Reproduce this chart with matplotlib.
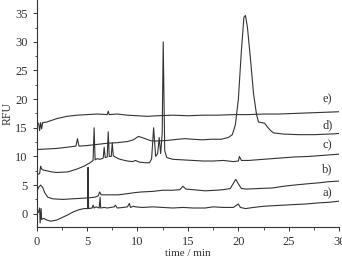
import matplotlib
matplotlib.use("Agg")
import matplotlib.pyplot as plt
from matplotlib.ticker import MultipleLocator

plt.rcParams.update({"font.family": "Liberation Serif", "font.size": 9})

# electropherograms a)-e): (time / min, RFU)
t_a = [0.0, 0.2, 0.3, 0.35, 0.45, 0.5, 0.7, 1.0, 1.4, 2.0, 2.6, 3.1, 3.6, 4.2, 4.7, 5.05, 5.1, 5.15,
       5.5, 5.6, 5.7, 5.9, 6.2, 6.3, 6.35, 6.7, 7.0, 7.7, 7.8, 8.0, 8.6, 9.0, 9.2, 9.3, 9.6, 9.8,
       10.5, 11.5, 12.5, 13.5, 14.5, 15.5, 16.7, 17.5, 18.5, 19.5, 20.0, 20.2, 20.7, 21.5, 22.5,
       23.4, 24.5, 25.5, 26.7, 28.0, 29.0, 30.0]
y_a = [0.0, 0.3, 1.0, -1.6, 0.9, -1.0, -0.8, -1.1, -1.3, -1.1, -0.6, -0.2, 0.3, 0.7, 0.9, 0.9, 8.1, 0.9,
       1.0, 1.5, 1.0, 1.2, 1.0, 2.9, 1.0, 1.1, 1.0, 1.2, 1.5, 1.0, 1.1, 1.2, 1.8, 1.1, 1.3, 1.2,
       1.1, 1.2, 1.1, 1.0, 1.1, 1.0, 1.0, 1.2, 1.1, 1.1, 1.7, 1.1, 0.9, 1.1, 1.3,
       1.4, 1.5, 1.6, 1.7, 1.9, 2.0, 2.2]

t_b = [0.0, 0.2, 0.4, 0.6, 0.8, 1.1, 1.6, 2.6, 3.5, 4.5, 5.3, 5.8, 6.1, 6.25, 6.4, 7.0, 8.1, 9.0,
       9.8, 10.4, 11.5, 12.5, 13.5, 14.2, 14.5, 14.8, 15.5, 16.7, 17.8, 18.5, 19.2, 19.5, 19.75,
       20.0, 20.3, 20.8, 22.0, 23.4, 24.5, 25.5, 26.7, 28.0, 29.0, 30.0]
y_b = [3.8, 4.6, 5.0, 4.6, 3.7, 2.9, 2.6, 2.5, 2.6, 2.7, 2.8, 2.9, 3.1, 3.8, 3.3, 3.3, 3.3, 3.5,
       3.7, 3.8, 3.9, 4.1, 4.1, 4.2, 4.8, 4.3, 4.2, 4.0, 4.1, 4.2, 4.4, 5.3, 6.0,
       5.2, 4.4, 4.3, 4.4, 4.5, 4.8, 5.0, 5.2, 5.4, 5.6, 5.7]

t_c = [0.0, 0.15, 0.3, 0.4, 0.5, 0.7, 1.0, 1.5, 2.0, 3.1, 4.0, 4.7, 5.3, 5.6, 5.7, 5.8, 6.0, 6.3,
       6.6, 6.7, 6.8, 7.0, 7.1, 7.2, 7.4, 7.5, 7.6, 8.1, 8.5, 9.0, 9.5, 9.8, 10.2, 10.8, 11.2,
       11.4, 11.6, 11.8, 12.0, 12.15, 12.3, 12.45, 12.55, 12.7, 12.9, 13.5, 14.5, 15.5, 16.5,
       17.5, 18.5, 19.5, 20.0, 20.1, 20.3, 21.0, 22.5, 24.0, 25.5, 27.0, 28.5, 30.0]
y_c = [7.0, 6.9, 7.0, 8.3, 7.8, 7.6, 7.5, 7.3, 7.2, 7.3, 7.8, 8.3, 8.9, 9.3, 15.0, 9.4, 9.6, 9.5,
       9.7, 11.6, 9.8, 9.9, 14.3, 10.0, 10.0, 12.4, 10.1, 9.6, 9.4, 9.2, 9.1, 9.3, 9.0, 8.9, 8.9,
       9.6, 15.0, 10.0, 10.5, 13.3, 10.5, 14.0, 30.0, 11.0, 9.8, 9.5, 9.4, 9.3, 9.2,
       9.2, 9.3, 9.1, 9.2, 10.0, 9.3, 9.3, 9.5, 9.7, 9.9, 10.0, 10.2, 10.4]

t_d = [0.0, 1.0, 2.0, 3.0, 3.9, 4.05, 4.2, 5.0, 6.0, 7.0, 8.0, 9.0, 9.6, 10.1, 10.6, 11.4, 12.0,
       13.0, 14.0, 14.7, 15.5, 16.4, 17.3, 18.3, 19.0, 19.4, 19.7, 20.0, 20.3, 20.55, 20.7, 20.9,
       21.2, 21.5, 21.8, 22.0, 22.3, 22.6, 22.9, 23.2, 23.5, 24.5, 26.0, 27.5, 29.0, 30.0]
y_d = [11.2, 11.3, 11.4, 11.6, 11.8, 13.1, 11.8, 11.9, 12.1, 12.3, 12.4, 12.6, 12.9, 13.5, 13.2, 12.7, 12.7,
       12.8, 13.0, 13.1, 13.0, 12.9, 13.0, 13.0, 13.3, 13.8, 15.5, 20.0, 28.5, 34.3, 34.6, 32.5,
       27.0, 21.0, 17.3, 16.0, 15.9, 15.8, 15.1, 14.5, 14.1, 13.9, 13.8, 13.8, 13.9, 14.0]

t_e = [0.0, 0.2, 0.3, 0.4, 0.5, 0.6, 1.0, 1.5, 2.0, 3.0, 4.0, 5.0, 6.0, 7.0, 7.1, 7.2, 8.0, 9.0,
       10.0, 11.0, 12.0, 13.5, 15.0, 16.5, 18.0, 19.5, 21.0, 22.5, 24.0, 25.5, 27.0, 28.5, 30.0]
y_e = [15.6, 15.8, 14.5, 15.9, 14.8, 15.9, 16.0, 16.3, 16.6, 17.0, 17.2, 17.3, 17.4, 17.3, 17.9, 17.3, 17.4, 17.2,
       17.1, 17.0, 17.1, 17.2, 17.1, 17.2, 17.2, 17.3, 17.3, 17.4, 17.4, 17.5, 17.6, 17.7, 17.8]

labels = ["a)", "b)", "c)", "d)", "e)"]
label_y = [3.6, 7.8, 11.9, 15.5, 20.0]

fig = plt.figure(figsize=(3.42, 2.62), dpi=100)
ax = fig.add_axes([0.107, 0.135, 0.885, 0.865])
for t, y in [(t_a, y_a), (t_b, y_b), (t_c, y_c), (t_d, y_d), (t_e, y_e)]:
    ax.plot(t, y, color="#333333", lw=0.8)
for lab, yl in zip(labels, label_y):
    ax.text(28.8, yl, lab, ha="center", va="center", fontsize=9, color="#333333")

ax.set_xlim(0, 30)
ax.set_ylim(-2.25, 37.3)
ax.xaxis.set_major_locator(MultipleLocator(5))
ax.xaxis.set_minor_locator(MultipleLocator(2.5))
ax.yaxis.set_major_locator(MultipleLocator(5))
ax.yaxis.set_minor_locator(MultipleLocator(2.5))
ax.tick_params(which="major", direction="out", length=3, width=0.7, colors="#333333", labelcolor="#333333")
ax.tick_params(which="minor", direction="out", length=1.8, width=0.6, colors="#333333")
for s in ("top", "right"):
    ax.spines[s].set_visible(False)
for s in ("left", "bottom"):
    ax.spines[s].set_linewidth(0.8)
    ax.spines[s].set_color("#333333")
ax.set_xlabel("time / min", color="#333333", fontsize=8, labelpad=1)
ax.set_ylabel("RFU", color="#333333", fontsize=8.5, labelpad=1)

fig.savefig("out.png", dpi=100)
